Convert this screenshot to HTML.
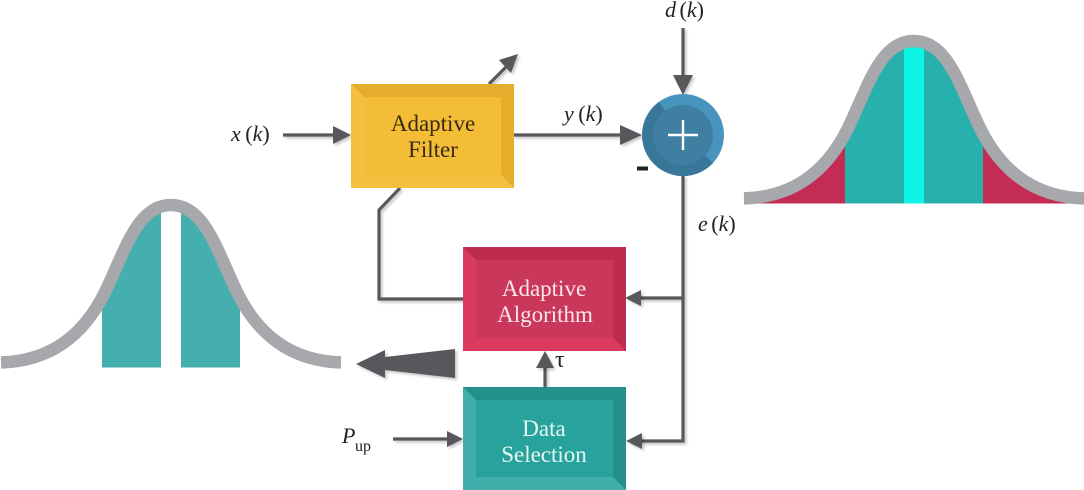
<!DOCTYPE html>
<html>
<head>
<meta charset="utf-8">
<style>
html,body{margin:0;padding:0;background:#fff;width:1084px;height:490px;overflow:hidden}
svg{display:block}
text{font-family:"Liberation Serif",serif}
</style>
</head>
<body>
<svg width="1084" height="490" viewBox="0 0 1084 490" xmlns="http://www.w3.org/2000/svg">
<defs>
<path id="bell" d="M744 198.5C790 197 825 175 848 128C868 87 880 41 914 41C948 41 960 87 980 128C1003 175 1038 197 1084 198.5"/>
<clipPath id="under"><path d="M744 198.5C790 197 825 175 848 128C868 87 880 41 914 41C948 41 960 87 980 128C1003 175 1038 197 1084 198.5V204H744Z"/></clipPath>
<filter id="sh" x="-30%" y="-30%" width="160%" height="160%"><feDropShadow dx="2" dy="2" stdDeviation="1.2" flood-color="#000" flood-opacity=".22"/></filter>
</defs>

<!-- right bell -->
<g clip-path="url(#under)">
<rect x="744" y="30" width="340" height="173.5" fill="#c32c54"/>
<rect x="845" y="30" width="138" height="173.5" fill="#27b0ac"/>
<rect x="904" y="30" width="20" height="173.5" fill="#0ef5e8"/>
</g>
<use href="#bell" fill="none" stroke="#a7a8ac" stroke-width="12.5"/>

<!-- left bell -->
<g transform="translate(-743 164)">
<g clip-path="url(#under)">
<rect x="845" y="30" width="59" height="173.5" fill="#45aeae"/>
<rect x="924" y="30" width="59" height="173.5" fill="#45aeae"/>
</g>
<use href="#bell" fill="none" stroke="#a7a8ac" stroke-width="12.5"/>
</g>

<!-- connectors -->
<g fill="none" stroke="#58595b" stroke-width="3.2" filter="url(#sh)">
<path d="M283 135H336"/>
<path d="M513 135H624"/>
<path d="M683 28V78"/>
<path d="M683 175V441H640"/>
<path d="M683 298H640"/>
<path d="M400 188L379 210V299H463"/>
<path d="M489 84L508 65"/>
<path d="M545 387V366"/>
<path d="M393 439H450"/>
</g>
<g fill="#58595b" filter="url(#sh)">
<path d="M351 135L333 126V144Z"/>
<path d="M642 135L620 125V145Z"/>
<path d="M683 95L673 75H693Z"/>
<path d="M518 54L499 60L511 73Z"/>
<path d="M625 298L641 290V306Z"/>
<path d="M626 441L642 433V449Z"/>
<path d="M545 351L536 368H554Z"/>
<path d="M463 439L447 431V447Z"/>
<path d="M356 364L385 350V357L455 349V378L385 370V378Z"/>
</g>

<!-- summing junction -->
<circle cx="683" cy="135" r="41" fill="#4894bc"/>
<path d="M659 102A41 41 0 0 0 654 164A41 41 0 0 0 713 163L683 135Z" fill="#38779a"/>
<circle cx="683" cy="135" r="30" fill="#3f80a2"/>
<path d="M683 120V150M668 135H698" stroke="#fff" stroke-width="2.4" fill="none"/>
<rect x="637" y="166.5" width="11" height="4" fill="#222"/>

<!-- Adaptive Filter -->
<rect x="351" y="84" width="163" height="104" fill="#f3bd36"/>
<path d="M351 84H514L501 97H364Z" fill="#e6ac2b"/>
<path d="M514 84V188L501 175V97Z" fill="#e6ac2b"/>
<path d="M351 84L364 97V175L351 188Z" fill="#f5c03d"/>
<path d="M351 188L364 175H501L514 188Z" fill="#f5c03d"/>
<text x="433" y="131" font-size="23" fill="#3a2a12" text-anchor="middle">Adaptive</text>
<text x="433" y="157" font-size="23" fill="#3a2a12" text-anchor="middle">Filter</text>

<!-- Adaptive Algorithm -->
<rect x="463" y="247" width="163" height="104" fill="#c9385a"/>
<path d="M463 247H626L613 260H476Z" fill="#bd2c4e"/>
<path d="M626 247V351L613 338V260Z" fill="#bd2c4e"/>
<path d="M463 247L476 260V338L463 351Z" fill="#d93a5e"/>
<path d="M463 351L476 338H613L626 351Z" fill="#d93a5e"/>
<text x="544" y="296" font-size="23" fill="#fbe6ea" text-anchor="middle">Adaptive</text>
<text x="545" y="322" font-size="23" fill="#fbe6ea" text-anchor="middle">Algorithm</text>

<!-- Data Selection -->
<rect x="463" y="387" width="163" height="103" fill="#27a29c"/>
<path d="M463 387H626L613 400H476Z" fill="#239089"/>
<path d="M626 387V490L613 477V400Z" fill="#239089"/>
<path d="M463 387L476 400V477L463 490Z" fill="#41aeac"/>
<path d="M463 490L476 477H613L626 490Z" fill="#41aeac"/>
<text x="544" y="436" font-size="23" fill="#e6f6f4" text-anchor="middle">Data</text>
<text x="544" y="462" font-size="23" fill="#e6f6f4" text-anchor="middle">Selection</text>

<!-- labels -->
<g font-size="22" fill="#222">
<text x="231" y="141"><tspan font-style="italic">x</tspan><tspan dx="-1"> (</tspan><tspan font-style="italic">k</tspan>)</text>
<text x="564" y="121"><tspan font-style="italic">y</tspan><tspan dx="-1"> (</tspan><tspan font-style="italic">k</tspan>)</text>
<text x="665" y="17"><tspan font-style="italic">d</tspan><tspan dx="-2"> (</tspan><tspan font-style="italic">k</tspan>)</text>
<text x="698" y="231"><tspan font-style="italic">e</tspan><tspan dx="-2"> (</tspan><tspan font-style="italic">k</tspan>)</text>
<text x="342" y="443" font-style="italic">P</text>
<text x="355" y="451" font-size="16">up</text>
<text x="555" y="367" font-size="24">τ</text>
</g>
</svg>
</body>
</html>
